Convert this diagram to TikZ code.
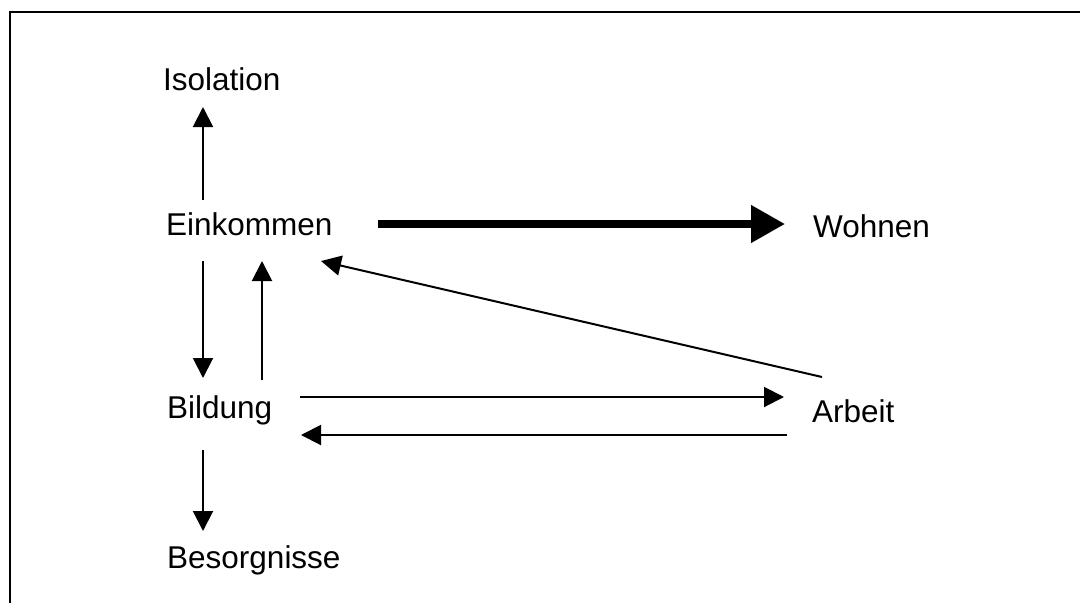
\documentclass[tikz,border=0pt]{standalone}
\usepackage{fontspec}
\setmainfont{Liberation Sans}
\usetikzlibrary{arrows.meta}
\begin{document}
\begin{tikzpicture}[x=1pt,y=-1pt,
  lbl/.style={anchor=base west,inner sep=0pt,font=\fontsize{31.5}{36}\selectfont},
  thin/.style={line width=2pt,-{Triangle[length=20pt,width=20pt]}},
  thick/.style={line width=7.5pt,-{Triangle[length=34pt,width=36pt]}},
  frame/.style={line width=2pt}]
\useasboundingbox (0,0) rectangle (1080,603);
\draw[frame] (1080,12) -- (10,12) -- (10,603);
\node[lbl] (iso) at (163,90) {Isolation};
\node[lbl] (ein) at (166,235) {Einkommen};
\node[lbl] (woh) at (813,237) {Wohnen};
\node[lbl] (bil) at (167,418) {Bildung};
\node[lbl] (arb) at (812,422) {Arbeit};
\node[lbl] (bes) at (167,568) {Besorgnisse};
% connector ends
\coordinate (isoA) at (203,107);
\coordinate (einT) at (203,200);
\coordinate (einR) at (378,224);
\coordinate (wohL) at (785,224);
\coordinate (einB1) at (203,261);
\coordinate (bilT1) at (203,378);
\coordinate (bilT2) at (262,380);
\coordinate (einB2) at (262,261);
\coordinate (arbD) at (822,377);
\coordinate (einD) at (321,261);
\coordinate (bilR1) at (300,397);
\coordinate (arbL1) at (784,397);
\coordinate (arbL2) at (787,435);
\coordinate (bilR2) at (301,435);
\coordinate (bilB) at (203,450);
\coordinate (besT) at (203,531);
\draw[thin] (einT) -- (isoA);
\draw[thick] (einR) -- (wohL);
\draw[thin] (einB1) -- (bilT1);
\draw[thin] (bilT2) -- (einB2);
\draw[thin] (arbD) -- (einD);
\draw[thin] (bilR1) -- (arbL1);
\draw[thin] (arbL2) -- (bilR2);
\draw[thin] (bilB) -- (besT);
\end{tikzpicture}
\end{document}
